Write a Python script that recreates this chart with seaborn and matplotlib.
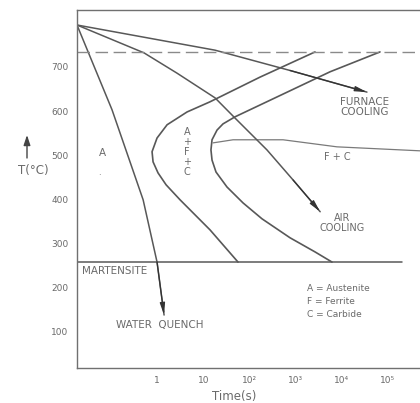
import numpy as np
import pandas as pd

import matplotlib
matplotlib.use("Agg")
import matplotlib.pyplot as plt
from matplotlib.ticker import NullLocator

import seaborn as sns

# TTT diagram values (time in s, temperature in degC)

start_t = [2630, 170, 14.0, 4.46, 1.65, 1.0, 0.78, 0.82, 1.05, 1.57, 3.15, 14.0, 56.6]
start_T = [734, 677, 621, 598, 569, 539, 508, 485, 460, 433, 399, 331, 258]

finish_t = [67100, 5560, 757, 48.8, 26.8, 19.9, 15.5, 14.7, 15.5, 18.9, 32.7, 72.7, 187, 757, 2630, 6130]
finish_T = [734, 689, 646, 587, 571, 557, 535, 512, 489, 462, 428, 392, 356, 313, 281, 258]

fc_t = [16.3, 44.2, 534, 7870, 4.9e5]
fc_T = [528, 535, 535, 519, 510]

furnace_t = [0.0185, 18, 757, 35000]
furnace_T = [795, 738, 692, 643]

air_t = [0.0185, 0.52, 2.7, 18, 49, 240, 880, 3400]
air_T = [795, 732, 686, 630, 584, 512, 444, 372]

water_t = [0.0185, 0.106, 0.50, 1.0, 1.42]
water_T = [795, 603, 399, 258, 138]

eutectoid_T = 734
ms_T = 258
ms_end = 2.0e5

x_ticks = [1, 10, 100, 1e3, 1e4, 1e5]
x_labels = ["1", "10", "10²", "10³", "10⁴", "10⁵"]
y_ticks = [100, 200, 300, 400, 500, 600, 700]

line_c = "#585858"
text_c = "#6a6a6a"

sns.set_style("white")
plt.rcParams["font.family"] = ["DejaVu Sans"]

fig = plt.figure(figsize=(4.2, 4.03), dpi=100)
ax = fig.add_axes([77 / 420, 35 / 403, 343 / 420, 358 / 403])

ax.set_xscale("log")
ax.set_xlim(0.0185, 4.93e5)
ax.set_ylim(18, 829)

curves = [
    (start_t, start_T, line_c, 1.2),
    (finish_t, finish_T, line_c, 1.2),
    (fc_t, fc_T, "#7a7a7a", 0.9),
    (furnace_t, furnace_T, line_c, 1.1),
    (air_t, air_T, line_c, 1.1),
    (water_t, water_T, line_c, 1.1),
]
for t, T, c, w in curves:
    df = pd.DataFrame({"t": t, "T": T})
    sns.lineplot(data=df, x="t", y="T", sort=False, estimator=None,
                 color=c, lw=w, ax=ax)

# eutectoid (dashed) and martensite start lines
ax.plot([0.0185, 4.93e5], [eutectoid_T, eutectoid_T], color="#8a8a8a",
        lw=1.0, dashes=(9, 4))
ax.plot([0.0185, ms_end], [ms_T, ms_T], color=line_c, lw=1.1)

# arrow heads on the cooling paths
for t, T in [(furnace_t, furnace_T), (air_t, air_T), (water_t, water_T)]:
    ax.annotate("", xy=(t[-1], T[-1]), xytext=(t[-2], T[-2]),
                arrowprops=dict(arrowstyle="-|>,head_length=0.7,head_width=0.15",
                                color="#333333", lw=0.9, shrinkA=0, shrinkB=0))

# region labels
fs = 7
ax.text(0.0645, 505, "A", fontsize=7.5, color=text_c, ha="center", va="center")
ax.text(0.058, 462, ".", fontsize=6, color=text_c, ha="center", va="center")
ax.text(4.46, 508, "A\n+\nF\n+\nC", fontsize=fs, color=text_c, ha="center",
        va="center", linespacing=1.0)
ax.text(7870, 496, "F + C", fontsize=fs, color=text_c, ha="center", va="center")
ax.text(31800, 609, "FURNACE\nCOOLING", fontsize=7.5, color=text_c,
        ha="center", va="center", linespacing=1.0)
ax.text(10100, 347, "AIR\nCOOLING", fontsize=7, color=text_c,
        ha="center", va="center", linespacing=1.0)
ax.text(0.0238, 238, "MARTENSITE", fontsize=7.5, color=text_c,
        ha="left", va="center")
ax.text(1.16, 116, "WATER  QUENCH", fontsize=7.5, color=text_c,
        ha="center", va="center")
ax.text(1770, 168, "A = Austenite\nF = Ferrite\nC = Carbide", fontsize=6.5,
        color=text_c, ha="left", va="center", linespacing=1.55)

# axes styling
ax.set_xticks(x_ticks)
ax.set_xticklabels(x_labels)
ax.xaxis.set_minor_locator(NullLocator())
ax.set_yticks(y_ticks)
ax.tick_params(axis="x", direction="inout", length=4, width=0.8, color=line_c,
               labelsize=6.5, labelcolor=text_c, pad=4)
ax.tick_params(axis="y", direction="out", length=5, width=0.8, color=line_c,
               labelsize=6.5, labelcolor=text_c, pad=1)

for side in ["left", "bottom", "top"]:
    ax.spines[side].set_color("#707070")
    ax.spines[side].set_linewidth(1.0)
ax.spines["right"].set_visible(False)

ax.set_xlabel("Time(s)", fontsize=8.5, color=text_c, va="center")
ax.xaxis.set_label_coords(0.458, -0.081)
ax.set_ylabel("T(°C)", fontsize=8.5, color=text_c, rotation=0,
              ha="center", va="center")
ax.yaxis.set_label_coords(-0.128, 0.553)

# little upward arrow above the T(°C) label
ax.annotate("", xy=(27 / 420, 1 - 135 / 403), xytext=(27 / 420, 1 - 158 / 403),
            xycoords="figure fraction", textcoords="figure fraction",
            arrowprops=dict(arrowstyle="-|>,head_length=0.6,head_width=0.2",
                            color="#444444", lw=1.0, shrinkA=0, shrinkB=0))

fig.savefig("out.png", dpi=100)
plt.close(fig)
